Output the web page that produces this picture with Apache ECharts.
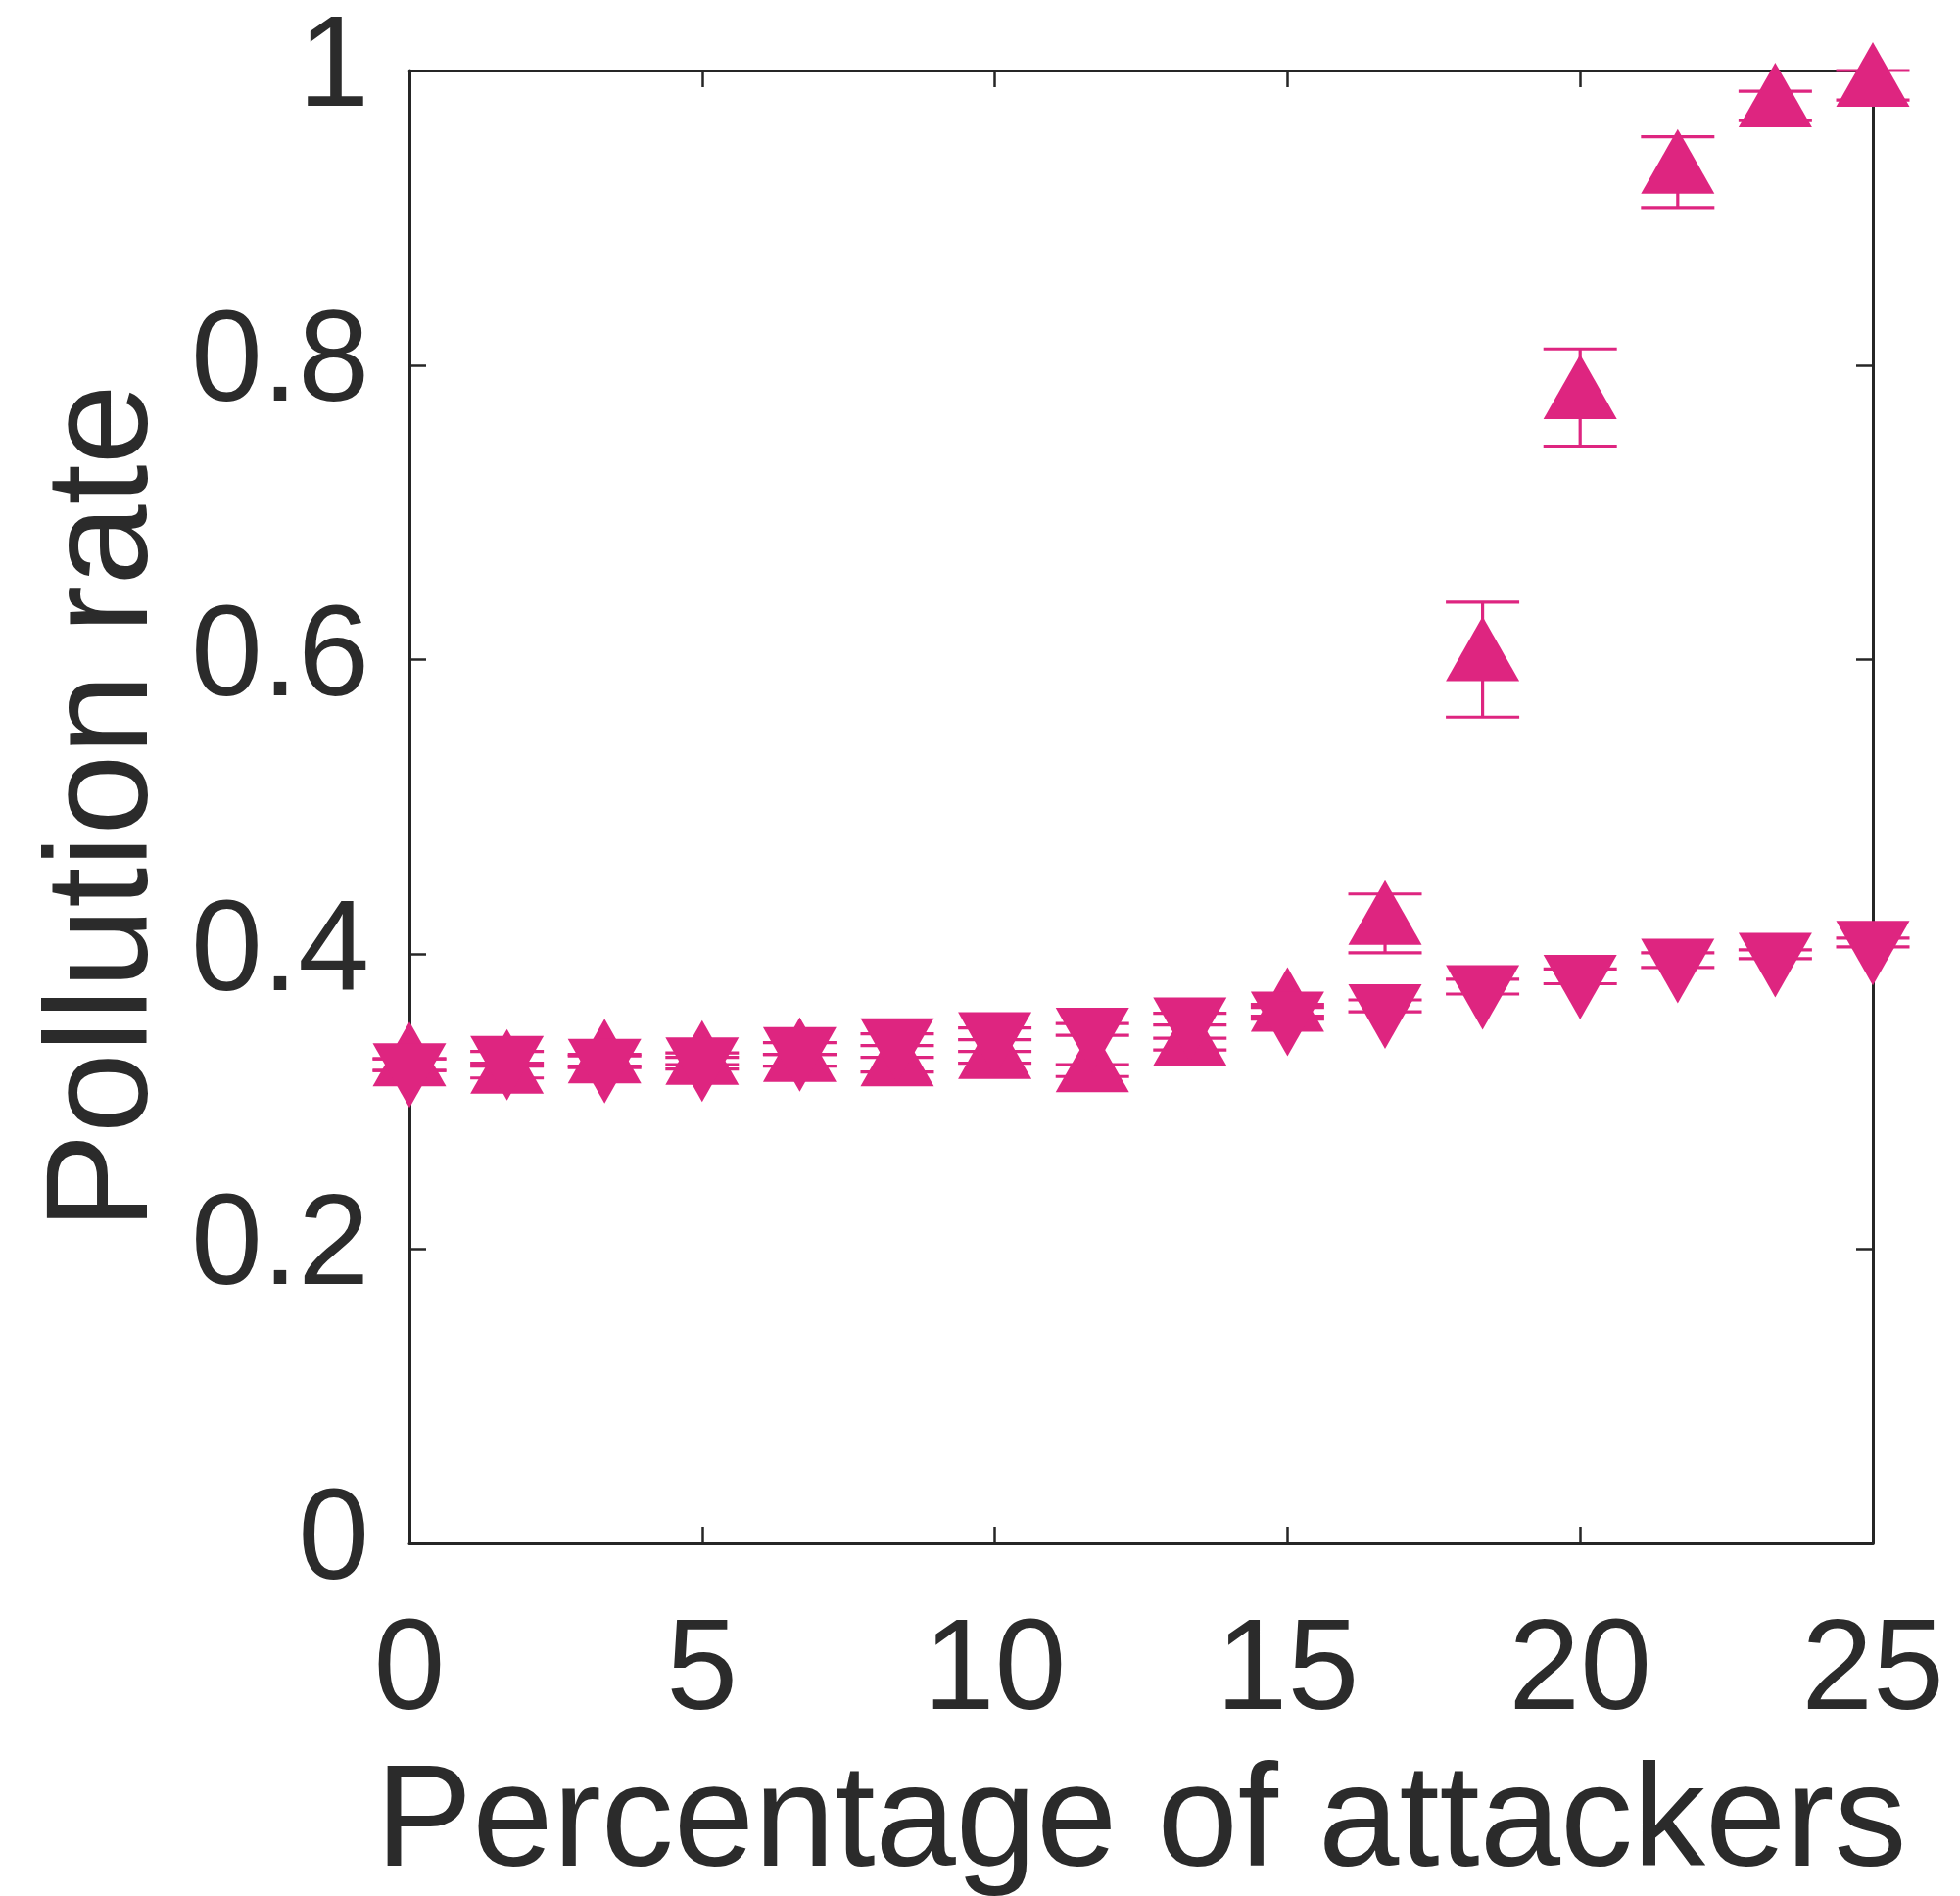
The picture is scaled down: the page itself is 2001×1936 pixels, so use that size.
<!DOCTYPE html>
<html><head><meta charset="utf-8">
<script src="https://cdn.jsdelivr.net/npm/echarts@6.0.0/dist/echarts.min.js"></script>
<style>html,body{margin:0;padding:0;background:#fff}#c{width:2001px;height:1936px}</style>
</head><body><div id="c"></div>
<script>
// Data
const xValues = [0, 1.667, 3.333, 5, 6.667, 8.333, 10, 11.667, 13.333, 15, 16.667, 18.333, 20, 21.667, 23.333, 25];
const upValues = [0.325, 0.320, 0.327, 0.326, 0.328, 0.325, 0.330, 0.321, 0.339, 0.362, 0.421, 0.600, 0.778, 0.931, 0.976, 0.990];
const upErrors = [0.004, 0.004, 0.004, 0.004, 0.004, 0.005, 0.004, 0.004, 0.004, 0.004, 0.020, 0.039, 0.033, 0.024, 0.010, 0.010];
const downValues = [0.325, 0.330, 0.328, 0.329, 0.336, 0.342, 0.346, 0.349, 0.356, 0.360, 0.365, 0.378, 0.385, 0.396, 0.400, 0.408];
const downErrors = [0.004, 0.004, 0.004, 0.004, 0.004, 0.004, 0.004, 0.004, 0.004, 0.004, 0.004, 0.005, 0.005, 0.005, 0.003, 0.003];
const xTicks = [0, 5, 10, 15, 20, 25];
const yTicks = [0, 0.2, 0.4, 0.6, 0.8, 1];

const COLOR = '#de2580';
const AXIS = '#262626';
const TEXT = '#2b2b2b';
const FONT = '"Liberation Sans", Arial, Helvetica, sans-serif';
const MW = 75, MH = 66;

const chart = echarts.init(document.getElementById('c'), null, {renderer: 'canvas'});

function errSeries(vals, errs) {
  return {
    type: 'custom',
    xAxisIndex: 0, yAxisIndex: 0,
    clip: false, z: 3,
    data: xValues.map((x, i) => [x, vals[i] - errs[i], vals[i] + errs[i]]),
    encode: {x: 0, y: [1, 2]},
    renderItem(params, api) {
      const x = api.value(0);
      const lo = api.coord([x, api.value(1)]);
      const hi = api.coord([x, api.value(2)]);
      const hw = MW / 2;
      const st = {stroke: COLOR, lineWidth: 3.2};
      return {type: 'group', children: [
        {type: 'line', shape: {x1: lo[0], y1: lo[1], x2: hi[0], y2: hi[1]}, style: st},
        {type: 'line', shape: {x1: lo[0] - hw, y1: lo[1], x2: lo[0] + hw, y2: lo[1]}, style: st},
        {type: 'line', shape: {x1: hi[0] - hw, y1: hi[1], x2: hi[0] + hw, y2: hi[1]}, style: st}
      ]};
    }
  };
}

const labelStyle = {fontFamily: FONT, fontSize: 131, color: TEXT};

chart.setOption({
  animation: false,
  backgroundColor: '#ffffff',
  grid: {left: 418, right: 89, top: 72, bottom: 360, containLabel: false, outerBoundsMode: 'none'},
  xAxis: [{
    type: 'value', min: 0, max: 25, interval: 5, position: 'bottom',
    axisLine: {show: true, onZero: false, lineStyle: {color: AXIS, width: 3}},
    axisTick: {show: true, inside: true, length: 17, lineStyle: {color: AXIS, width: 2.5}},
    axisLabel: Object.assign({margin: 67, formatter: v => xTicks.includes(v) ? String(v) : ''}, labelStyle),
    splitLine: {show: false},
    name: 'Percentage of attackers', nameLocation: 'middle', nameGap: 214, nameMoveOverlap: false,
    nameTextStyle: {fontFamily: FONT, fontSize: 148, color: TEXT}
  }, {
    type: 'value', min: 0, max: 25, interval: 5, position: 'top',
    axisLine: {show: true, onZero: false, lineStyle: {color: AXIS, width: 3}},
    axisTick: {show: true, inside: true, length: 17, lineStyle: {color: AXIS, width: 2.5}},
    axisLabel: {show: false}, splitLine: {show: false}
  }],
  yAxis: [{
    type: 'value', min: 0, max: 1, interval: 0.2, position: 'left',
    axisLine: {show: true, onZero: false, lineStyle: {color: AXIS, width: 3}},
    axisTick: {show: true, inside: true, length: 17, lineStyle: {color: AXIS, width: 2.5}},
    axisLabel: Object.assign({margin: 41, formatter: v => {
      const t = yTicks.find(k => Math.abs(k - v) < 1e-9);
      return t === undefined ? '' : String(t);
    }}, labelStyle),
    splitLine: {show: false},
    name: 'Pollution rate', nameLocation: 'middle', nameGap: 235, nameRotate: 90, nameMoveOverlap: false,
    nameTextStyle: {fontFamily: FONT, fontSize: 148, color: TEXT}
  }, {
    type: 'value', min: 0, max: 1, interval: 0.2, position: 'right',
    axisLine: {show: true, onZero: false, lineStyle: {color: AXIS, width: 3}},
    axisTick: {show: true, inside: true, length: 17, lineStyle: {color: AXIS, width: 2.5}},
    axisLabel: {show: false}, splitLine: {show: false}
  }],
  series: [
    errSeries(upValues, upErrors),
    errSeries(downValues, downErrors),
    {
      type: 'scatter', xAxisIndex: 0, yAxisIndex: 0, clip: false, z: 4,
      symbol: 'path://M1,0 L2,2 L0,2 Z', symbolSize: [MW, MH], symbolOffset: [0, -MH / 6],
      itemStyle: {color: COLOR, opacity: 1},
      data: xValues.map((x, i) => [x, upValues[i]])
    },
    {
      type: 'scatter', xAxisIndex: 0, yAxisIndex: 0, clip: false, z: 4,
      symbol: 'path://M0,0 L2,0 L1,2 Z', symbolSize: [MW, MH], symbolOffset: [0, MH / 6],
      itemStyle: {color: COLOR, opacity: 1},
      data: xValues.map((x, i) => [x, downValues[i]])
    }
  ]
});
</script>
</body></html>
